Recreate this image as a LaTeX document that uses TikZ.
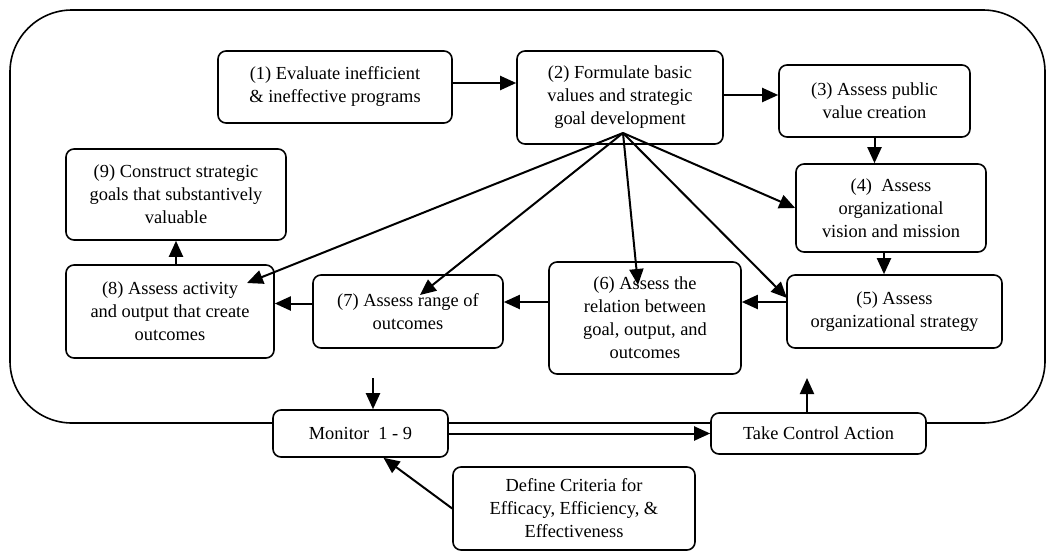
\documentclass[tikz,border=0pt]{standalone}
\usepackage{fontspec}
\setmainfont{Liberation Serif}
\usetikzlibrary{arrows.meta}

\begin{document}
\begin{tikzpicture}[
    x=1pt, y=-1pt,
    every node/.style={font=\fontsize{18.4}{23}\selectfont},
    box/.style={draw, line width=1.6pt, rounded corners=8pt, fill=white, align=center, inner sep=2pt},
    arrow/.style={-{Triangle[length=16pt,width=14pt]}, line width=2pt}
  ]
    \useasboundingbox (0,0) rectangle (1047,552);
    \draw[line width=1.6pt, rounded corners=62pt] (10,10) rectangle (1045,423);

    \node[box, minimum width=234pt, minimum height=72pt] (evaluate) at (335,87) {(1) Evaluate inefficient\\\& ineffective programs};
    \node[box, minimum width=206pt, minimum height=93pt] (formulate) at (620,97.5) {(2) Formulate basic\\values and strategic\\goal development};
    \node[box, minimum width=191pt, minimum height=72pt] (publicvalue) at (874.5,101) {(3) Assess public\\value creation};
    \node[box, minimum width=190pt, minimum height=88pt] (vision) at (891,208) {(4)~ Assess\\organizational\\vision and mission};
    \node[box, minimum width=215pt, minimum height=73pt] (strategy) at (894.5,311.5) {(5) Assess\\organizational strategy};
    \node[box, minimum width=192pt, minimum height=112pt] (relation) at (645,318) {(6) Assess the\\relation between\\goal, output, and\\outcomes};
    \node[box, minimum width=190pt, minimum height=73pt] (range) at (408,311.5) {(7) Assess range of\\outcomes};
    \node[box, minimum width=208pt, minimum height=93pt] (activity) at (170,311.5) {(8) Assess activity\\and output that create\\outcomes};
    \node[box, minimum width=220pt, minimum height=91pt] (construct) at (176,194.5) {(9) Construct strategic\\goals that substantively\\valuable};
    \node[box, minimum width=175pt, minimum height=47pt] (monitor) at (360.5,433.5) {Monitor~ 1 - 9};
    \node[box, minimum width=215pt, minimum height=41pt] (control) at (818.5,433.5) {Take Control Action};
    \node[box, minimum width=242pt, minimum height=83pt] (criteria) at (574,508.5) {Define Criteria for\\Efficacy, Efficiency, \&\\Effectiveness};

    % fan out of (2)
    \coordinate (hub) at (623,133);
    \coordinate (tipact) at (247,283);
    \coordinate (tiprange) at (420,295);
    \coordinate (tiprel) at (638,285);
    \coordinate (tipstrat) at (787,298);
    \draw[arrow] (hub) -- (tipact);
    \draw[arrow] (hub) -- (tiprange);
    \draw[arrow] (hub) -- (tiprel);
    \draw[arrow] (hub) -- (tipstrat);
    \draw[arrow] (hub) -- (vision.west);

    % chain
    \draw[arrow] ([yshift=4pt]evaluate.east) -- ([yshift=4pt]evaluate.east -| formulate.west);
    \draw[arrow] ([yshift=2.5pt]formulate.east) -- ([yshift=2.5pt]formulate.east -| publicvalue.west);
    \draw[arrow] (publicvalue.south) -- (publicvalue.south |- vision.north);
    \draw[arrow] ([xshift=-7pt]vision.south) -- ([xshift=-7pt]vision.south |- strategy.north);
    \draw[arrow] ([yshift=9.5pt]strategy.west) -- ([yshift=9.5pt]strategy.west -| relation.east);
    \draw[arrow] ([yshift=9.5pt]range.east -| relation.west) -- ([yshift=9.5pt]range.east);
    \draw[arrow] ([yshift=8pt]range.west) -- ([yshift=8pt]range.west -| activity.east);
    \draw[arrow] ([xshift=6pt]activity.north) -- ([xshift=6pt]activity.north |- construct.south);

    % control loop
    \coordinate (watch) at (373,378);
    \coordinate (act) at (807,378);
    \draw[arrow] (watch) -- (watch |- monitor.north);
    \draw[arrow] (act |- control.north) -- (act);
    \draw[arrow] (monitor) -- (control);
    \draw[arrow] (criteria.west) -- ([xshift=23pt]monitor.south);
  \end{tikzpicture}
\end{document}
